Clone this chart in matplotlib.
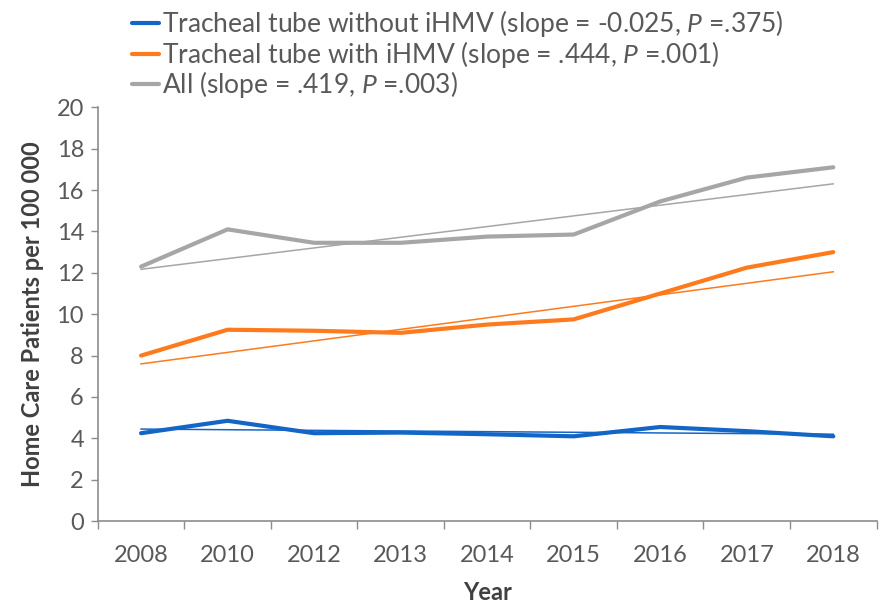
import matplotlib.pyplot as plt
import numpy as np

plt.rcParams['font.family'] = ['Lato', 'DejaVu Sans']
plt.rcParams['mathtext.fontset'] = 'custom'
plt.rcParams['mathtext.rm'] = 'Lato'
plt.rcParams['mathtext.it'] = 'Lato:italic'

years = ["2008", "2010", "2012", "2013", "2014", "2015", "2016", "2017", "2018"]

without_ihmv = [4.25, 4.85, 4.25, 4.28, 4.2, 4.1, 4.55, 4.35, 4.1]
with_ihmv = [8.0, 9.25, 9.2, 9.1, 9.5, 9.75, 11.0, 12.25, 13.0]
all_pts = [12.3, 14.1, 13.45, 13.45, 13.75, 13.85, 15.45, 16.6, 17.1]

# trend line end values (first and last year)
trend_without = [4.45, 4.2]
trend_with = [7.6, 12.05]
trend_all = [12.17, 16.3]

labels = [
    "Tracheal tube without iHMV (slope = -0.025, $P$ =.375)",
    "Tracheal tube with iHMV (slope = .444, $P$ =.001)",
    "All (slope = .419, $P$ =.003)",
]

blue = "#1466C6"
orange = "#FF7A1C"
gray = "#A6A6A6"
text_col = "#595959"

fig = plt.figure(figsize=(8.89, 6.06), dpi=100)
ax = fig.add_axes([0.110, 0.140, 0.876, 0.683])

x = np.arange(len(years))
ends = [x[0], x[-1]]

ax.plot(ends, trend_without, color=blue, lw=1.1)
ax.plot(ends, trend_with, color=orange, lw=1.1)
ax.plot(ends, trend_all, color=gray, lw=1.1)

h1, = ax.plot(x, without_ihmv, color=blue, lw=3, solid_capstyle="round", label=labels[0])
h2, = ax.plot(x, with_ihmv, color=orange, lw=3, solid_capstyle="round", label=labels[1])
h3, = ax.plot(x, all_pts, color=gray, lw=3, solid_capstyle="round", label=labels[2])

ax.set_xlim(-0.5, len(years) - 0.5)
ax.set_ylim(0, 20)
ax.set_yticks(range(0, 21, 2))
ax.set_xticks(x)
ax.set_xticklabels(years)
ax.set_xticks(np.arange(-0.5, len(years)), minor=True)
ax.tick_params(axis="x", which="major", length=0, pad=17, labelsize=17, labelcolor=text_col)
ax.tick_params(axis="x", which="minor", length=6, width=1, color="#8c8c8c", direction="out")
ax.tick_params(axis="y", length=5, width=1, color="#8c8c8c", labelsize=17, labelcolor=text_col, pad=5)

for s in ["top", "right"]:
    ax.spines[s].set_visible(False)
for s in ["left", "bottom"]:
    ax.spines[s].set_color("#8c8c8c")
    ax.spines[s].set_linewidth(1.2)

ax.set_xlabel("Year", fontsize=17, fontweight="bold", color="#404040", labelpad=11)
ax.set_ylabel("Home Care Patients per 100 000", fontsize=17, fontweight="bold", color="#404040", labelpad=9)

fig.legend(handles=[h1, h2, h3], loc="upper left", bbox_to_anchor=(0.134, 1.008),
           frameon=False, fontsize=19, handlelength=1.0, handletextpad=0.12,
           labelspacing=-0.02, labelcolor=text_col, borderaxespad=0.1)

fig.savefig("out.png", dpi=100)
plt.close(fig)
